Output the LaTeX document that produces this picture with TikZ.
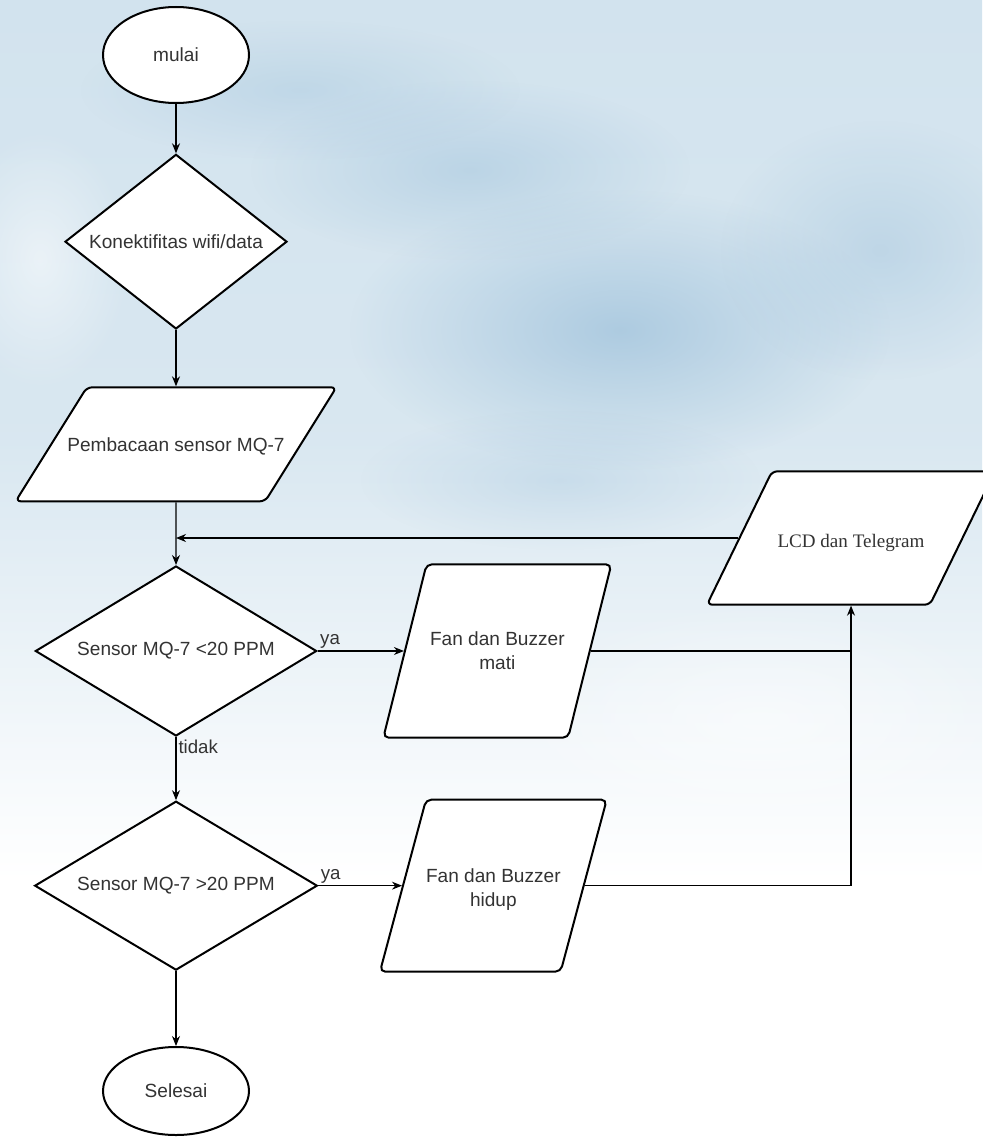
\documentclass[tikz,border=0pt]{standalone}
\usepackage{fontspec}
\setmainfont{Liberation Sans}
\newfontfamily\serifface{Liberation Serif}
\usetikzlibrary{shapes.geometric,positioning,arrows.meta,fadings}
\definecolor{inktext}{HTML}{333333}
\definecolor{washblue}{HTML}{D2E3EE}
\definecolor{deepwash}{HTML}{9CC0DA}
\tikzfading[name=softblob, inner color=transparent!0, outer color=transparent!100]
\tikzset{
>={Stealth[length=7.5pt,width=6pt]},
line/.style={draw=black, line width=0.8pt},
flow/.style={line, ->},
every node/.append style={font=\fontsize{14.3}{17.5}\selectfont, text=inktext},
terminal/.style={ellipse, draw, line width=1.5pt, fill=white, minimum width=109.5pt, minimum height=72pt, inner sep=0pt},
decision/.style={diamond, draw, line width=1.5pt, fill=white, inner sep=0pt, shape aspect=1.3},
io/.style={trapezium, trapezium stretches body=true, draw, line width=1.5pt, fill=white, rounded corners=4pt, inner sep=0pt, align=center},
branch/.style={font=\fontsize{14}{16}\selectfont, inner sep=1.5pt},
wash/.style={path fading=softblob, fill opacity=#1},
}

\begin{document}
\begin{tikzpicture}[x=0.75pt, y=-0.75pt]
    % background
    \useasboundingbox (0,0) rectangle (982,1138);
    \shade[top color=washblue, bottom color=white, middle color=washblue!85!white] (0,0) rectangle (982,880);
    \fill[white] (0,880) rectangle (982,1138);
    \fill[deepwash, wash=.7] (620,330) ellipse [x radius=270, y radius=140];
    \fill[deepwash, wash=.45] (470,170) ellipse [x radius=220, y radius=90];
    \fill[deepwash, wash=.4] (880,250) ellipse [x radius=160, y radius=130];
    \fill[deepwash, wash=.35] (300,90) ellipse [x radius=220, y radius=70];
    \fill[deepwash, wash=.3] (560,480) ellipse [x radius=200, y radius=70];
    \fill[white, wash=.5] (40,260) ellipse [x radius=90, y radius=130];
    \fill[white, wash=.5] (760,720) ellipse [x radius=260, y radius=120];

    \node[terminal] (mulai) at (176,55) {mulai};
    \node[decision, minimum width=166.5pt, minimum height=131pt, node distance=140pt, below of=mulai] (konek) {Konektifitas wifi/data};
    \node[io, trapezium left angle=58, trapezium right angle=122, inner xsep=-14.6pt, text height=48pt, text depth=37.5pt, node distance=152pt, below of=konek] (baca) {Pembacaan sensor MQ-7};
    \node[decision, minimum width=211pt, minimum height=127.5pt, node distance=155pt, below of=baca] (cekA) {Sensor MQ-7 <20 PPM};
    \node[decision, minimum width=212pt, minimum height=124pt, node distance=176pt, below of=cekA] (cekB) {Sensor MQ-7 >20 PPM};
    \node[terminal, minimum height=66pt, node distance=154pt, below of=cekB] (selesai) {Selesai};
    \node[io, trapezium left angle=76, trapezium right angle=104, minimum width=171pt, text height=78.5pt, text depth=51.5pt, node distance=241pt, right of=cekA] (mati) {Fan dan Buzzer\\mati};
    \node[io, trapezium left angle=75, trapezium right angle=105, minimum width=170pt, text height=79.75pt, text depth=49.25pt, node distance=238pt, right of=cekB] (hidup) {Fan dan Buzzer\\hidup};
    \node[io, trapezium left angle=64, trapezium right angle=116, minimum width=216pt, text height=57.25pt, text depth=42.75pt, font=\serifface\fontsize{14.3}{17.5}\selectfont] (lcd) at (851,538) {LCD dan Telegram};

    \coordinate (join) at (baca.south |- lcd.west);

    \draw[flow] (mulai) -- (konek);
    \draw[flow] (konek) -- (baca);
    \draw[line] (baca) -- (join);
    \draw[flow] (join) -- (cekA);
    \draw[flow] (lcd.west) -- (join);
    \draw[flow] (cekA.east) -- node[branch, pos=0, anchor=south west]{ya} (cekA.east -| mati.west);
    \draw[flow] (cekA) -- node[branch, pos=0, anchor=north west]{tidak} (cekB);
    \draw[flow] (cekB.east) -- node[branch, pos=0, anchor=south west]{ya} (cekB.east -| hidup.west);
    \draw[flow] (cekB) -- (selesai);
    \draw[line] (mati.east) -- (mati.east -| lcd.south);
    \draw[flow] (hidup.east) -| (lcd.south);
\end{tikzpicture}
\end{document}
